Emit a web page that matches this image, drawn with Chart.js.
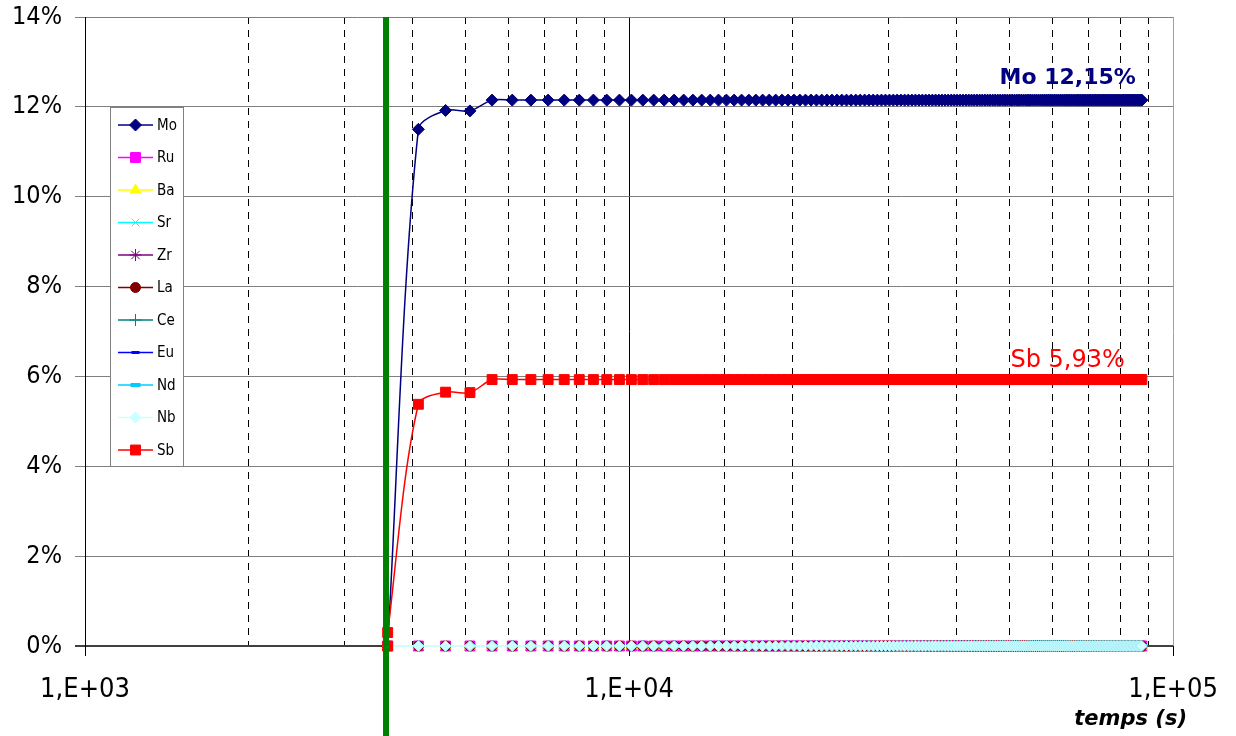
<!DOCTYPE html>
<html>
<head>
<meta charset="utf-8">
<script src="https://cdn.jsdelivr.net/npm/chart.js@4/dist/chart.umd.min.js"></script>
<style>
html,body{margin:0;padding:0;background:#fff;}
#wrap{width:1236px;height:736px;}
</style>
</head>
<body>
<div id="wrap"><canvas id="c" width="1236" height="736"></canvas></div>
<script>
// sampling times (s), one point every 500 s after the 1 h mark
const times = [
  3600,4100,4600,5100,5600,6100,6600,7100,7600,8100,
  8600,9100,9600,10100,10600,11100,11600,12100,12600,13100,
  13600,14100,14600,15100,15600,16100,16600,17100,17600,18100,
  18600,19100,19600,20100,20600,21100,21600,22100,22600,23100,
  23600,24100,24600,25100,25600,26100,26600,27100,27600,28100,
  28600,29100,29600,30100,30600,31100,31600,32100,32600,33100,
  33600,34100,34600,35100,35600,36100,36600,37100,37600,38100,
  38600,39100,39600,40100,40600,41100,41600,42100,42600,43100,
  43600,44100,44600,45100,45600,46100,46600,47100,47600,48100,
  48600,49100,49600,50100,50600,51100,51600,52100,52600,53100,
  53600,54100,54600,55100,55600,56100,56600,57100,57600,58100,
  58600,59100,59600,60100,60600,61100,61600,62100,62600,63100,
  63600,64100,64600,65100,65600,66100,66600,67100,67600,68100,
  68600,69100,69600,70100,70600,71100,71600,72100,72600,73100,
  73600,74100,74600,75100,75600,76100,76600,77100,77600,78100,
  78600,79100,79600,80100,80600,81100,81600,82100,82600,83100,
  83600,84100,84600,85100,85600,86100,86600,87100,87600
];
const moValues = [
  0,11.50,11.92,11.91,12.15,12.15,12.15,12.15,12.15,12.15,
  12.15,12.15,12.15,12.15,12.15,12.15,12.15,12.15,12.15,12.15,
  12.15,12.15,12.15,12.15,12.15,12.15,12.15,12.15,12.15,12.15,
  12.15,12.15,12.15,12.15,12.15,12.15,12.15,12.15,12.15,12.15,
  12.15,12.15,12.15,12.15,12.15,12.15,12.15,12.15,12.15,12.15,
  12.15,12.15,12.15,12.15,12.15,12.15,12.15,12.15,12.15,12.15,
  12.15,12.15,12.15,12.15,12.15,12.15,12.15,12.15,12.15,12.15,
  12.15,12.15,12.15,12.15,12.15,12.15,12.15,12.15,12.15,12.15,
  12.15,12.15,12.15,12.15,12.15,12.15,12.15,12.15,12.15,12.15,
  12.15,12.15,12.15,12.15,12.15,12.15,12.15,12.15,12.15,12.15,
  12.15,12.15,12.15,12.15,12.15,12.15,12.15,12.15,12.15,12.15,
  12.15,12.15,12.15,12.15,12.15,12.15,12.15,12.15,12.15,12.15,
  12.15,12.15,12.15,12.15,12.15,12.15,12.15,12.15,12.15,12.15,
  12.15,12.15,12.15,12.15,12.15,12.15,12.15,12.15,12.15,12.15,
  12.15,12.15,12.15,12.15,12.15,12.15,12.15,12.15,12.15,12.15,
  12.15,12.15,12.15,12.15,12.15,12.15,12.15,12.15,12.15,12.15,
  12.15,12.15,12.15,12.15,12.15,12.15,12.15,12.15,12.15
];
// Sb has one extra reading at 3600 s (0 then 0.30 %)
const sbTimes = [3600].concat(times);
const sbValues = [
  0,0.30,5.38,5.65,5.64,5.93,5.93,5.93,5.93,5.93,
  5.93,5.93,5.93,5.93,5.93,5.93,5.93,5.93,5.93,5.93,
  5.93,5.93,5.93,5.93,5.93,5.93,5.93,5.93,5.93,5.93,
  5.93,5.93,5.93,5.93,5.93,5.93,5.93,5.93,5.93,5.93,
  5.93,5.93,5.93,5.93,5.93,5.93,5.93,5.93,5.93,5.93,
  5.93,5.93,5.93,5.93,5.93,5.93,5.93,5.93,5.93,5.93,
  5.93,5.93,5.93,5.93,5.93,5.93,5.93,5.93,5.93,5.93,
  5.93,5.93,5.93,5.93,5.93,5.93,5.93,5.93,5.93,5.93,
  5.93,5.93,5.93,5.93,5.93,5.93,5.93,5.93,5.93,5.93,
  5.93,5.93,5.93,5.93,5.93,5.93,5.93,5.93,5.93,5.93,
  5.93,5.93,5.93,5.93,5.93,5.93,5.93,5.93,5.93,5.93,
  5.93,5.93,5.93,5.93,5.93,5.93,5.93,5.93,5.93,5.93,
  5.93,5.93,5.93,5.93,5.93,5.93,5.93,5.93,5.93,5.93,
  5.93,5.93,5.93,5.93,5.93,5.93,5.93,5.93,5.93,5.93,
  5.93,5.93,5.93,5.93,5.93,5.93,5.93,5.93,5.93,5.93,
  5.93,5.93,5.93,5.93,5.93,5.93,5.93,5.93,5.93,5.93,
  5.93,5.93,5.93,5.93,5.93,5.93,5.93,5.93,5.93,5.93
];
// all the other elements stay at 0 % over the whole run
const traceValues = [
  0,0,0,0,0,0,0,0,0,0, 0,0,0,0,0,0,0,0,0,0,
  0,0,0,0,0,0,0,0,0,0, 0,0,0,0,0,0,0,0,0,0,
  0,0,0,0,0,0,0,0,0,0, 0,0,0,0,0,0,0,0,0,0,
  0,0,0,0,0,0,0,0,0,0, 0,0,0,0,0,0,0,0,0,0,
  0,0,0,0,0,0,0,0,0,0, 0,0,0,0,0,0,0,0,0,0,
  0,0,0,0,0,0,0,0,0,0, 0,0,0,0,0,0,0,0,0,0,
  0,0,0,0,0,0,0,0,0,0, 0,0,0,0,0,0,0,0,0,0,
  0,0,0,0,0,0,0,0,0,0, 0,0,0,0,0,0,0,0,0,0,
  0,0,0,0,0,0,0,0,0
];
const yTicks = [0,2,4,6,8,10,12,14];
const stepTime = 3575; // green marker line (end of first hour)
const moLabel = "Mo 12,15%";
const sbLabel = "Sb 5,93%";
const xTitle = "temps (s)";

const SERIES = [
  {label:"Mo",color:"#000080",style:"rectRot",r:6,x:times,y:moValues},
  {label:"Ru",color:"#FF00FF",style:"rect",r:7,x:times,y:traceValues},
  {label:"Ba",color:"#FFFF00",style:"triangle",r:6,x:times,y:traceValues},
  {label:"Sr",color:"#00FFFF",style:"crossRot",r:5.5,x:times,y:traceValues},
  {label:"Zr",color:"#800080",style:"star",r:6,x:times,y:traceValues},
  {label:"La",color:"#800000",style:"circle",r:5,x:times,y:traceValues},
  {label:"Ce",color:"#008080",style:"cross",r:6,x:times,y:traceValues},
  {label:"Eu",color:"#0000FF",style:"line",r:4,x:times,y:traceValues,bw:3},
  {label:"Nd",color:"#00CCFF",style:"line",r:5,x:times,y:traceValues,bw:4},
  {label:"Nb",color:"#CCFFFF",style:"rectRot",r:5.5,x:times,y:traceValues},
  {label:"Sb",color:"#FF0000",style:"rect",r:7,x:sbTimes,y:sbValues},
];
const FONT = "'DejaVu Sans Condensed','DejaVu Sans',sans-serif";
const isDecade = v => {const l = Math.log10(v); return Math.abs(l - Math.round(l)) < 1e-6;};

const datasets = SERIES.map((s,i)=>({
  label:s.label,
  data:s.x.map((t,k)=>({x:t,y:s.y[k]})),
  borderColor:s.color,
  backgroundColor:s.color,
  borderWidth:s.label==="Mo"||s.label==="Sb"?1.5:2,
  pointStyle:s.style,
  pointRadius:s.r,
  pointBorderWidth:s.bw||1,
  pointBackgroundColor:s.color,
  pointBorderColor:s.label==="Nb"?"#a8ecf8":s.color,
  tension:0.3,
  order:SERIES.length-i,
  clip:false
}));

const legendBox = {
  id:"legendBox",
  afterDraw(chart){
    const ctx = chart.ctx;
    ctx.save();
    ctx.fillStyle = "#fff";
    ctx.strokeStyle = "#808080";
    ctx.lineWidth = 1;
    ctx.fillRect(110.5,107.5,73,359);
    ctx.strokeRect(110.5,107.5,73,359);
    SERIES.forEach((s,i)=>{
      const y = 125 + 32.5*i;
      ctx.strokeStyle = s.color;
      ctx.fillStyle = s.color;
      ctx.lineWidth = 1.5;
      ctx.beginPath();ctx.moveTo(118,y);ctx.lineTo(153,y);ctx.stroke();
      ctx.lineWidth = s.bw||1;
      Chart.helpers.drawPoint(ctx,{pointStyle:s.style,radius:s.r,rotation:0,borderWidth:s.bw||1},135.5,y);
      ctx.fillStyle = "#000";
      ctx.font = "15px "+FONT;
      ctx.textBaseline = "middle";
      ctx.textAlign = "left";
      ctx.fillText(s.label,157,y+1);
    });
    // value labels next to the plateaus
    const xs = chart.scales.x, ys = chart.scales.y;
    const xEnd = xs.getPixelForValue(times[times.length-1]);
    ctx.textAlign = "right";
    ctx.textBaseline = "alphabetic";
    ctx.fillStyle = "#000080";
    ctx.font = "bold 22px 'DejaVu Sans',sans-serif";
    ctx.fillText(moLabel,xEnd-6,ys.getPixelForValue(moValues[moValues.length-1])-16);
    ctx.fillStyle = "#FF0000";
    ctx.font = "24px 'DejaVu Sans',sans-serif";
    ctx.fillText(sbLabel,xEnd-17,ys.getPixelForValue(sbValues[sbValues.length-1])-13);
    ctx.fillStyle = "#000";
    ctx.font = "italic bold 21px 'DejaVu Sans',sans-serif";
    ctx.fillText(xTitle,1187,725);
    ctx.restore();
  }
};
const stepLine = {
  id:"stepLine",
  afterDatasetsDraw(chart){
    const ctx = chart.ctx;
    const x = chart.scales.x.getPixelForValue(stepTime);
    ctx.save();
    ctx.strokeStyle = "#008000";
    ctx.lineWidth = 6;
    ctx.beginPath();ctx.moveTo(x,chart.chartArea.top);ctx.lineTo(x,chart.height);ctx.stroke();
    ctx.restore();
  }
};

new Chart(document.getElementById("c"),{
  type:"line",
  data:{datasets},
  options:{
    responsive:false,
    animation:false,
    devicePixelRatio:1,
    layout:{padding:{top:17,right:61,left:0,bottom:0}},
    plugins:{legend:{display:false},tooltip:{enabled:false}},
    scales:{
      x:{
        type:"logarithmic",min:1000,max:100000,
        afterFit:s=>{s.height=90;},
        border:{display:false,dash:c=>isDecade(c.tick.value)?[]:[7,6]},
        grid:{
          color:c=>c.tick&&c.tick.value===100000?"#a0a0a0":"#000",
          lineWidth:1,tickLength:10,
          tickColor:c=>isDecade(c.tick.value)?"#000":"rgba(0,0,0,0)"
        },
        ticks:{
          autoSkip:false,maxRotation:0,padding:18,color:"#000",
          font:{family:FONT,size:27},
          callback:v=>isDecade(v)?"1,E+0"+Math.round(Math.log10(v)):""
        }
      },
      y:{
        min:0,max:14,
        afterFit:s=>{s.width=85;s.paddingTop=0;s.paddingBottom=0;},
        afterBuildTicks:s=>{s.ticks=yTicks.map(v=>({value:v}));},
        border:{display:true,color:"#000",width:1},
        grid:{
          color:c=>c.tick&&c.tick.value===0?"#404040":"#808080",
          lineWidth:c=>c.tick&&c.tick.value===0?2:1,
          tickLength:10
        },
        ticks:{color:"#000",padding:13,font:{family:FONT,size:25},callback:v=>v+"%"}
      }
    }
  },
  plugins:[stepLine,legendBox]
});
</script>
</body>
</html>
